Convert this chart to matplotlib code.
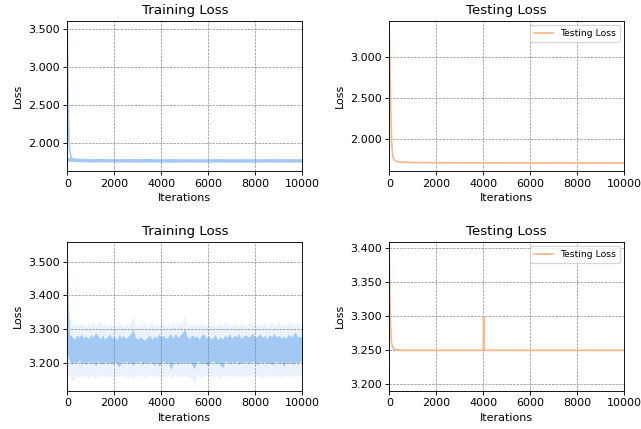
import numpy as np
import matplotlib
matplotlib.use("Agg")
import matplotlib.pyplot as plt
from matplotlib.ticker import FormatStrFormatter, MultipleLocator

BLUE = "#a1c9f4"
ORANGE = "#ffb482"

# ---------------- data ----------------
# Top-left training loss: initial decay + noisy band
train1_head_iters = [0, 20, 40, 60, 80, 100, 150, 200, 300]
train1_head_vals = [3.53, 3.00, 2.50, 2.20, 2.00, 1.90, 1.83, 1.80, 1.785]
train1_band_iters = [0, 500, 1000, 1500, 2000, 2500, 3000, 3500, 4000, 4500, 5000,
                     5500, 6000, 6500, 7000, 7500, 8000, 8500, 9000, 9500, 10000]
train1_upper = [1.815, 1.805, 1.800, 1.802, 1.798, 1.800, 1.799, 1.801, 1.797, 1.800, 1.798,
                1.799, 1.797, 1.800, 1.798, 1.799, 1.797, 1.800, 1.798, 1.799, 1.798]
train1_lower = [1.765, 1.758, 1.755, 1.756, 1.754, 1.755, 1.753, 1.755, 1.754, 1.752, 1.755,
                1.754, 1.753, 1.755, 1.752, 1.754, 1.753, 1.755, 1.754, 1.753, 1.754]

# Top-right testing loss
test1_iters = [0, 25, 50, 75, 100, 125, 150, 200, 300, 500, 1000, 2000, 4000, 6000, 10000]
test1_vals = [3.307, 2.90, 2.50, 2.20, 1.98, 1.85, 1.78, 1.74, 1.72, 1.712, 1.708, 1.705,
              1.703, 1.702, 1.702]

# Bottom-left training loss: initial decay + raw band (light) + smoothed band (dark)
train2_head_iters = [0, 20, 40, 60, 80, 100, 150, 200]
train2_head_vals = [3.485, 3.42, 3.36, 3.31, 3.28, 3.265, 3.25, 3.24]
train2_band_iters = list(range(0, 10001, 100))
train2_dark_upper = [
    3.300, 3.285, 3.278, 3.270, 3.282, 3.276, 3.286, 3.274, 3.280, 3.272,
    3.284, 3.276, 3.290, 3.280, 3.272, 3.283, 3.270, 3.278, 3.285, 3.274,
    3.279, 3.268, 3.284, 3.276, 3.281, 3.272, 3.280, 3.286, 3.300, 3.275,
    3.270, 3.278, 3.272, 3.268, 3.276, 3.282, 3.270, 3.280, 3.274, 3.286,
    3.276, 3.282, 3.272, 3.280, 3.286, 3.274, 3.288, 3.276, 3.282, 3.290,
    3.300, 3.278, 3.272, 3.284, 3.276, 3.280, 3.270, 3.282, 3.286, 3.274,
    3.280, 3.272, 3.276, 3.284, 3.268, 3.278, 3.270, 3.282, 3.276, 3.286,
    3.274, 3.282, 3.278, 3.286, 3.272, 3.280, 3.284, 3.276, 3.282, 3.288,
    3.274, 3.280, 3.286, 3.276, 3.282, 3.272, 3.284, 3.278, 3.288, 3.276,
    3.282, 3.274, 3.280, 3.272, 3.286, 3.278, 3.282, 3.292, 3.276, 3.280,
    3.274]
train2_dark_lower = [
    3.225, 3.205, 3.196, 3.204, 3.200, 3.208, 3.198, 3.203, 3.195, 3.205,
    3.198, 3.204, 3.192, 3.206, 3.200, 3.196, 3.205, 3.199, 3.203, 3.195,
    3.205, 3.199, 3.188, 3.204, 3.200, 3.206, 3.197, 3.203, 3.192, 3.205,
    3.200, 3.207, 3.196, 3.203, 3.198, 3.205, 3.200, 3.194, 3.204, 3.190,
    3.202, 3.206, 3.198, 3.204, 3.180, 3.200, 3.205, 3.196, 3.203, 3.198,
    3.204, 3.199, 3.205, 3.196, 3.182, 3.202, 3.206, 3.198, 3.203, 3.196,
    3.192, 3.204, 3.206, 3.199, 3.202, 3.196, 3.185, 3.203, 3.205, 3.198,
    3.204, 3.199, 3.206, 3.196, 3.203, 3.200, 3.205, 3.197, 3.202, 3.206,
    3.200, 3.196, 3.204, 3.199, 3.205, 3.198, 3.203, 3.195, 3.200, 3.206,
    3.198, 3.204, 3.190, 3.203, 3.199, 3.205, 3.197, 3.203, 3.200, 3.204,
    3.201]
train2_light_upper = [
    3.342, 3.335, 3.318, 3.308, 3.316, 3.310, 3.320, 3.312, 3.306, 3.318,
    3.312, 3.322, 3.308, 3.315, 3.326, 3.310, 3.317, 3.306, 3.320, 3.312,
    3.316, 3.308, 3.322, 3.313, 3.306, 3.318, 3.311, 3.320, 3.340, 3.312,
    3.308, 3.316, 3.312, 3.320, 3.306, 3.314, 3.326, 3.310, 3.318, 3.308,
    3.314, 3.320, 3.308, 3.316, 3.311, 3.322, 3.306, 3.318, 3.312, 3.324,
    3.340, 3.314, 3.308, 3.318, 3.310, 3.316, 3.306, 3.320, 3.312, 3.308,
    3.316, 3.310, 3.320, 3.306, 3.314, 3.318, 3.309, 3.322, 3.312, 3.316,
    3.308, 3.318, 3.312, 3.306, 3.320, 3.314, 3.310, 3.318, 3.322, 3.312,
    3.316, 3.308, 3.320, 3.312, 3.318, 3.306, 3.314, 3.322, 3.310, 3.318,
    3.326, 3.312, 3.316, 3.308, 3.320, 3.314, 3.318, 3.310, 3.322, 3.312,
    3.310]
train2_light_lower = [
    3.172, 3.160, 3.150, 3.148, 3.162, 3.156, 3.166, 3.158, 3.163, 3.155,
    3.166, 3.158, 3.154, 3.164, 3.160, 3.168, 3.156, 3.162, 3.159, 3.166,
    3.157, 3.163, 3.160, 3.167, 3.155, 3.162, 3.158, 3.165, 3.153, 3.161,
    3.166, 3.158, 3.163, 3.156, 3.161, 3.167, 3.157, 3.163, 3.159, 3.165,
    3.148, 3.162, 3.158, 3.165, 3.154, 3.161, 3.166, 3.157, 3.163, 3.159,
    3.164, 3.156, 3.160, 3.152, 3.138, 3.158, 3.165, 3.155, 3.162, 3.166,
    3.158, 3.163, 3.156, 3.165, 3.160, 3.154, 3.162, 3.167, 3.158, 3.163,
    3.160, 3.166, 3.157, 3.162, 3.159, 3.165, 3.156, 3.163, 3.160, 3.167,
    3.158, 3.164, 3.160, 3.155, 3.163, 3.166, 3.158, 3.162, 3.157, 3.165,
    3.160, 3.156, 3.164, 3.159, 3.166, 3.158, 3.163, 3.160, 3.165, 3.161,
    3.163]

# Bottom-right testing loss (with spike near 4000)
test2_iters = [0, 25, 50, 75, 100, 150, 200, 300, 500, 1000, 4000, 4015, 4030, 6000, 10000]
test2_vals = [3.390, 3.330, 3.290, 3.270, 3.260, 3.254, 3.252, 3.251, 3.250, 3.250,
              3.250, 3.300, 3.250, 3.250, 3.250]

# ---------------- figure ----------------
fig = plt.figure(figsize=(641 / 80, 429 / 80), dpi=80)
L1, R1 = 67.3 / 641, 302.3 / 641
L2, R2 = 389.3 / 641, 624.3 / 641
T1, B1 = 1 - 20.7 / 429, 1 - 171 / 429
T2, B2 = 1 - 241.7 / 429, 1 - 390.7 / 429

ax1 = fig.add_axes([L1, B1, R1 - L1, T1 - B1])
ax2 = fig.add_axes([L2, B1, R2 - L2, T1 - B1])
ax3 = fig.add_axes([L1, B2, R1 - L1, T2 - B2])
ax4 = fig.add_axes([L2, B2, R2 - L2, T2 - B2])

grid_kw = dict(linestyle="--", linewidth=0.6, color="gray")

# top-left
ax1.fill_between(train1_band_iters, train1_lower, train1_upper, color=BLUE, lw=0)
ax1.plot(train1_head_iters, train1_head_vals, color=BLUE, lw=1.5)
ax1.set_ylim(1.637, 3.609)
ax1.yaxis.set_major_locator(MultipleLocator(0.5))
ax1.set_title("Training Loss")

# top-right
ax2.plot(test1_iters, test1_vals, color=ORANGE, lw=1.5, label="Testing Loss")
ax2.set_ylim(1.603, 3.45)
ax2.yaxis.set_major_locator(MultipleLocator(0.5))
ax2.set_title("Testing Loss")
ax2.legend(loc="upper right", fontsize="small")

# bottom-left
ax3.fill_between(train2_band_iters, train2_light_lower, train2_light_upper,
                 color=BLUE, alpha=0.22, lw=0)
ax3.fill_between(train2_band_iters, train2_dark_lower, train2_dark_upper,
                 color=BLUE, lw=0)
ax3.plot(train2_head_iters, train2_head_vals, color=BLUE, lw=1.5)
ax3.set_ylim(3.118, 3.559)
ax3.yaxis.set_major_locator(MultipleLocator(0.1))
ax3.set_title("Training Loss")

# bottom-right
ax4.plot(test2_iters, test2_vals, color=ORANGE, lw=1.5, label="Testing Loss")
ax4.set_ylim(3.1906, 3.4097)
ax4.yaxis.set_major_locator(MultipleLocator(0.05))
ax4.set_title("Testing Loss")
ax4.legend(loc="upper right", fontsize="small")

for ax in (ax1, ax2, ax3, ax4):
    ax.set_xlim(0, 10000)
    ax.xaxis.set_major_locator(MultipleLocator(2000))
    ax.yaxis.set_major_formatter(FormatStrFormatter("%.3f"))
    ax.set_xlabel("Iterations")
    ax.set_ylabel("Loss")
    ax.grid(True, **grid_kw)

fig.savefig("out.png", dpi=80)
